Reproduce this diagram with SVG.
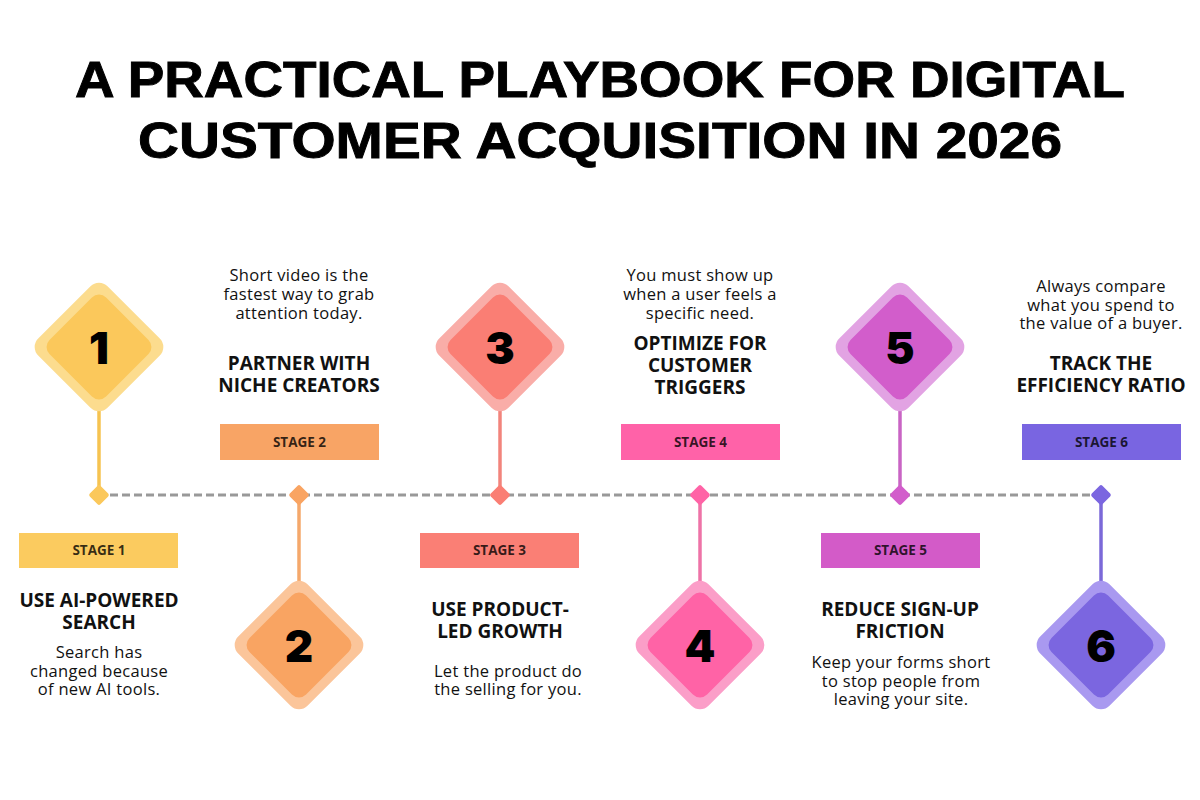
<svg xmlns="http://www.w3.org/2000/svg" width="1200" height="800" viewBox="0 0 1200 800">
<style>
.ttl{font-family:"Liberation Sans",Arial,sans-serif;font-weight:700;font-size:50px;fill:#000;stroke:#000;stroke-width:0.9px;text-anchor:middle}
.num{font-family:Inter,"Open Sans",sans-serif;font-weight:900;font-size:44px;fill:#000;text-anchor:middle}
.hd{font-family:"Open Sans","Noto Sans",sans-serif;font-weight:700;font-size:19px;fill:#111;text-anchor:middle}
.ds{font-family:"Open Sans","Noto Sans",sans-serif;font-weight:400;font-size:16.5px;fill:#111;text-anchor:middle;letter-spacing:0.3px}
.lb{font-family:"Open Sans","Noto Sans",sans-serif;font-weight:700;font-size:13.5px;fill:#000;fill-opacity:0.78;text-anchor:middle}
.stem{stroke-width:3.5;fill:none}
.tl{stroke:#999;stroke-width:3;stroke-dasharray:8 4;fill:none}
</style>
<rect width="1200" height="800" fill="#fff"/>
<g id="title">
<text class="ttl" x="600" y="97" textLength="1050" lengthAdjust="spacingAndGlyphs">A PRACTICAL PLAYBOOK FOR DIGITAL</text>
<text class="ttl" x="600" y="158" textLength="924" lengthAdjust="spacingAndGlyphs">CUSTOMER ACQUISITION IN 2026</text>
</g>
<g id="connectors">
<line class="tl" x1="110" y1="495" x2="1092" y2="495"/>
<line class="stem" x1="99" y1="405" x2="99" y2="495" stroke="#F6C350"/>
<line class="stem" x1="299" y1="495" x2="299" y2="588" stroke="#F5A86B"/>
<line class="stem" x1="500" y1="405" x2="500" y2="495" stroke="#F2847C"/>
<line class="stem" x1="700" y1="495" x2="700" y2="588" stroke="#EE73A7"/>
<line class="stem" x1="900" y1="405" x2="900" y2="495" stroke="#C964C4"/>
<line class="stem" x1="1101" y1="495" x2="1101" y2="588" stroke="#7B69D8"/>
<rect x="-7.5" y="-7.5" width="15" height="15" rx="2" fill="#FBC85B" transform="translate(99 495) rotate(45)"/>
<rect x="-7.5" y="-7.5" width="15" height="15" rx="2" fill="#F9A462" transform="translate(299 495) rotate(45)"/>
<rect x="-7.5" y="-7.5" width="15" height="15" rx="2" fill="#FA7E74" transform="translate(500 495) rotate(45)"/>
<rect x="-7.5" y="-7.5" width="15" height="15" rx="2" fill="#FF63A6" transform="translate(700 495) rotate(45)"/>
<rect x="-7.5" y="-7.5" width="15" height="15" rx="2" fill="#D25DCB" transform="translate(900 495) rotate(45)"/>
<rect x="-7.5" y="-7.5" width="15" height="15" rx="2" fill="#7B66E0" transform="translate(1101 495) rotate(45)"/>
</g>
<g id="stage1">
<rect x="-49" y="-49" width="98" height="98" rx="12" fill="#FCDC8E" transform="translate(99 347) rotate(45)"/>
<rect x="-40" y="-40" width="80" height="80" rx="10" fill="#FBC85B" transform="translate(99 347) rotate(45)"/>
<text class="num" x="99" y="364">1</text>
<rect x="19" y="533" width="159" height="35" fill="#FBCB5F"/>
<text class="lb" x="99" y="555">STAGE 1</text>
<text class="hd" x="99" y="607">USE AI-POWERED</text>
<text class="hd" x="99" y="629">SEARCH</text>
<text class="ds" x="99" y="658">Search has</text>
<text class="ds" x="99" y="677">changed because</text>
<text class="ds" x="99" y="695">of new AI tools.</text>
</g>
<g id="stage2">
<rect x="-49" y="-49" width="98" height="98" rx="12" fill="#FBC59A" transform="translate(299 645) rotate(45)"/>
<rect x="-40" y="-40" width="80" height="80" rx="10" fill="#F9A462" transform="translate(299 645) rotate(45)"/>
<text class="num" x="299" y="662">2</text>
<rect x="220" y="424" width="159" height="36" fill="#F8A465"/>
<text class="lb" x="299.5" y="447">STAGE 2</text>
<text class="hd" x="299" y="370">PARTNER WITH</text>
<text class="hd" x="299" y="392">NICHE CREATORS</text>
<text class="ds" x="299" y="281">Short video is the</text>
<text class="ds" x="299" y="300">fastest way to grab</text>
<text class="ds" x="299" y="319">attention today.</text>
</g>
<g id="stage3">
<rect x="-49" y="-49" width="98" height="98" rx="12" fill="#F9ADA8" transform="translate(500 347) rotate(45)"/>
<rect x="-40" y="-40" width="80" height="80" rx="10" fill="#FA7E74" transform="translate(500 347) rotate(45)"/>
<text class="num" x="500" y="364">3</text>
<rect x="420" y="533" width="159" height="35" fill="#FA7F75"/>
<text class="lb" x="499.5" y="555">STAGE 3</text>
<text class="hd" x="500" y="616">USE PRODUCT-</text>
<text class="hd" x="500" y="638">LED GROWTH</text>
<text class="ds" x="508" y="677">Let the product do</text>
<text class="ds" x="508" y="695">the selling for you.</text>
</g>
<g id="stage4">
<rect x="-49" y="-49" width="98" height="98" rx="12" fill="#FB9EC8" transform="translate(700 645) rotate(45)"/>
<rect x="-40" y="-40" width="80" height="80" rx="10" fill="#FF63A6" transform="translate(700 645) rotate(45)"/>
<text class="num" x="700" y="662">4</text>
<rect x="621" y="424" width="159" height="36" fill="#FF62A8"/>
<text class="lb" x="700.5" y="447">STAGE 4</text>
<text class="hd" x="700" y="350">OPTIMIZE FOR</text>
<text class="hd" x="700" y="372">CUSTOMER</text>
<text class="hd" x="700" y="394">TRIGGERS</text>
<text class="ds" x="700" y="281">You must show up</text>
<text class="ds" x="700" y="300">when a user feels a</text>
<text class="ds" x="700" y="319">specific need.</text>
</g>
<g id="stage5">
<rect x="-49" y="-49" width="98" height="98" rx="12" fill="#E2A3E3" transform="translate(900 347) rotate(45)"/>
<rect x="-40" y="-40" width="80" height="80" rx="10" fill="#D25DCB" transform="translate(900 347) rotate(45)"/>
<text class="num" x="900" y="364">5</text>
<rect x="821" y="533" width="159" height="35" fill="#D35BC8"/>
<text class="lb" x="900.5" y="555">STAGE 5</text>
<text class="hd" x="900" y="616">REDUCE SIGN-UP</text>
<text class="hd" x="900" y="638">FRICTION</text>
<text class="ds" x="901" y="668">Keep your forms short</text>
<text class="ds" x="901" y="687">to stop people from</text>
<text class="ds" x="901" y="705">leaving your site.</text>
</g>
<g id="stage6">
<rect x="-49" y="-49" width="98" height="98" rx="12" fill="#A999F0" transform="translate(1101 645) rotate(45)"/>
<rect x="-40" y="-40" width="80" height="80" rx="10" fill="#7B66E0" transform="translate(1101 645) rotate(45)"/>
<text class="num" x="1101" y="662">6</text>
<rect x="1022" y="424" width="159" height="36" fill="#7965E1"/>
<text class="lb" x="1101.5" y="447">STAGE 6</text>
<text class="hd" x="1101" y="370">TRACK THE</text>
<text class="hd" x="1101" y="392">EFFICIENCY RATIO</text>
<text class="ds" x="1101" y="292">Always compare</text>
<text class="ds" x="1101" y="311">what you spend to</text>
<text class="ds" x="1101" y="329">the value of a buyer.</text>
</g>
</svg>
